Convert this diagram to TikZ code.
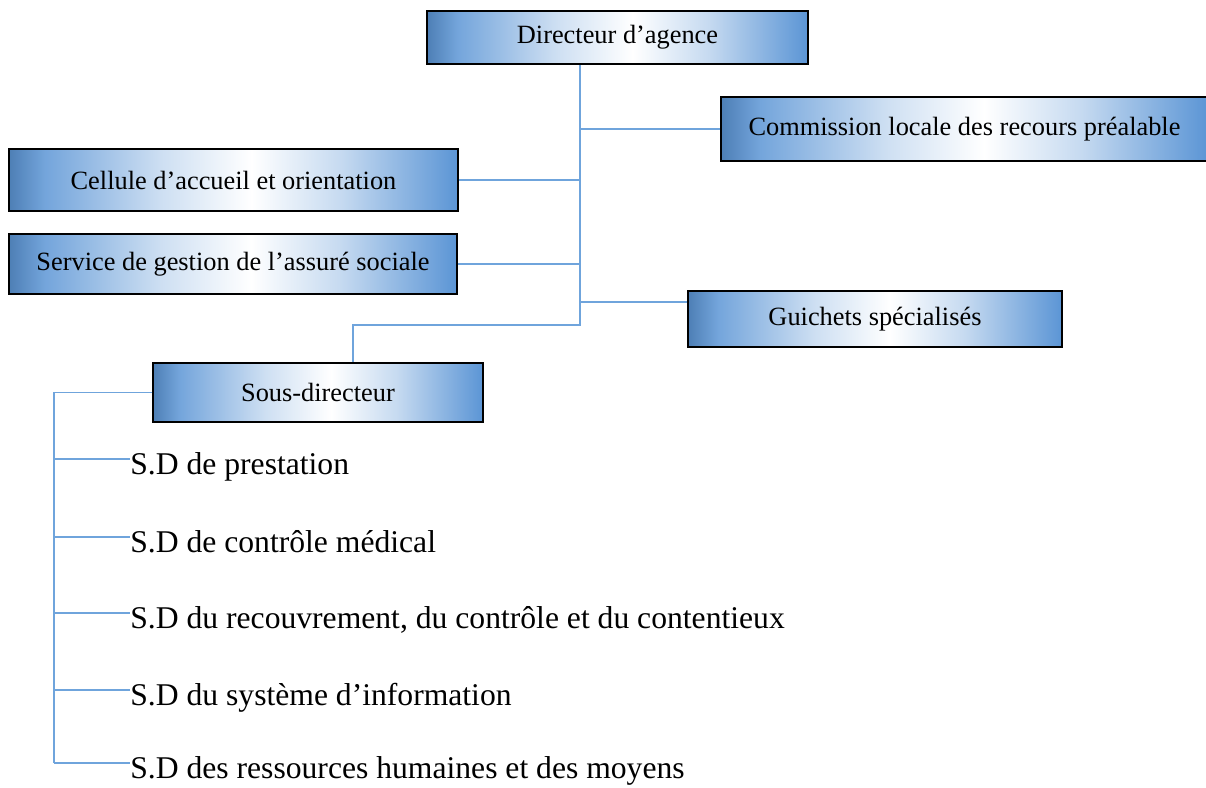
\documentclass[tikz,border=0pt]{standalone}
\usepackage{fontspec}
\setmainfont{Liberation Serif}
\definecolor{boxblue}{HTML}{5B95D5}
\definecolor{linkblue}{HTML}{6FA4DC}
\pgfdeclarehorizontalshading{boxshade}{100bp}{color(0bp)=(boxblue!85!black); color(25bp)=(boxblue!85!black); color(29bp)=(boxblue!85); color(42bp)=(boxblue!30); color(52bp)=(white); color(62bp)=(boxblue!35); color(75bp)=(boxblue); color(100bp)=(boxblue)}
\begin{document}
\begin{tikzpicture}[
    box/.style={draw=black, line width=1pt, shading=boxshade, inner sep=0pt, font=\fontsize{15}{18}\selectfont},
    link/.style={draw=linkblue, line width=0.8pt},
    item/.style={anchor=base west, inner sep=0pt, font=\fontsize{18}{22}\selectfont}]
    \useasboundingbox (0,0) rectangle (24.12,-15.76);

    \node[box, minimum width=7.62cm, minimum height=1.06cm] (dir) at (12.35,-0.75) {Directeur d’agence};
    \node[box, minimum width=9.74cm, minimum height=1.28cm] (comm) at (19.29,-2.58) {Commission locale des recours préalable};
    \node[box, minimum width=8.98cm, minimum height=1.24cm] (cell) at (4.67,-3.60) {Cellule d’accueil et orientation};
    \node[box, minimum width=8.96cm, minimum height=1.20cm] (serv) at (4.66,-5.28) {Service de gestion de l’assuré sociale};
    \node[box, minimum width=7.48cm, minimum height=1.12cm] (guich) at (17.50,-6.38) {Guichets spécialisés};
    \node[box, minimum width=6.60cm, minimum height=1.18cm] (sd) at (6.36,-7.85) {Sous-directeur};

    \coordinate (trunk) at (11.6,-6.5);
    \coordinate (drop) at ([xshift=0.7cm]sd.north);
    \coordinate (gw) at ([yshift=0.34cm]guich.west);
    \coordinate (bk) at (1.08,-15.26);

    \draw[link] (dir.south -| trunk) -- (trunk) -- (drop |- trunk) -- (drop);
    \draw[link] (comm.west) -- (comm.west -| trunk);
    \draw[link] (cell.east) -- (cell.east -| trunk);
    \draw[link] (serv.east) -- (serv.east -| trunk);
    \draw[link] (gw) -- (gw -| trunk);
    \draw[link] (sd.west) -- (sd.west -| bk) -- (bk);

    \foreach \y/\name/\txt in {-9.18/sda/{S.D de prestation}, -10.74/sdb/{S.D de contrôle médical}, -12.26/sdc/{S.D du recouvrement, du contrôle et du contentieux}, -13.80/sdd/{S.D du système d’information}, -15.26/sde/{S.D des ressources humaines et des moyens}} {
        \node[item] (\name) at (2.6,\y-0.3) {\txt};
        \path ([yshift=0.3cm]\name.base west) coordinate (\name-in);
        \draw[link] (\name-in) -- (\name-in -| bk);
    }
\end{tikzpicture}
\end{document}
